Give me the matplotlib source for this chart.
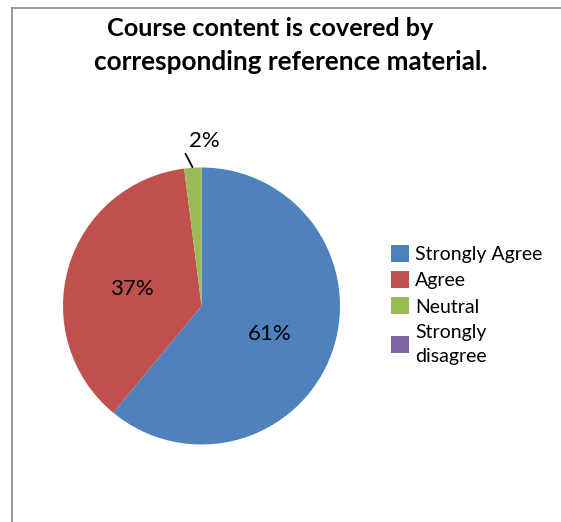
import matplotlib
matplotlib.use("Agg")
import matplotlib.pyplot as plt
from matplotlib.patches import Patch
from matplotlib.lines import Line2D
import numpy as np

plt.rcParams['font.family'] = ['Lato', 'DejaVu Sans']

categories = ["Strongly Agree", "Agree", "Neutral", "Strongly\ndisagree"]
values = [61, 37, 2, 0]
pct_labels = ["61%", "37%", "2%", ""]
colors = ["#4F81BD", "#C0504D", "#9BBB59", "#8064A2"]
title_lines = ["Course content is covered by ", "corresponding reference material."]

W, H = 561, 522
fig = plt.figure(figsize=(W / 100, H / 100), dpi=100)

# chart-area border (top and left visible)
fig.add_artist(Line2D([12 / W, 1.0], [1 - 8 / H, 1 - 8 / H], color="#888888", lw=1.2))
fig.add_artist(Line2D([12 / W, 12 / W], [0, 1 - 8 / H], color="#888888", lw=1.2))

# title
fig.text(273 / W, 1 - 28 / H, title_lines[0], ha="center", va="center",
         fontsize=18.2, fontweight="bold")
fig.text(291 / W, 1 - 62 / H, title_lines[1], ha="center", va="center",
         fontsize=18.8, fontweight="bold")

cx, cy, r = 201.5, 306, 138.5
ax = fig.add_axes([(cx - r) / W, 1 - (cy + r) / H, 2 * r / W, 2 * r / H])
wedges, _ = ax.pie(values, colors=colors, startangle=90, counterclock=False,
                   radius=1.0, wedgeprops=dict(linewidth=0))
ax.set_xlim(-1, 1)
ax.set_ylim(-1, 1)
ax.set_aspect("auto")
ax.axis("off")

for w, lab in zip(wedges, pct_labels):
    if not lab:
        continue
    mid_deg = (w.theta1 + w.theta2) / 2
    mid = np.deg2rad(mid_deg)
    frac = (w.theta2 - w.theta1) / 360
    if frac > 0.05:
        ax.text(0.52 * np.cos(mid), 0.52 * np.sin(mid) - 0.025, lab,
                ha="center", va="center", fontsize=16)
    else:
        a2 = np.deg2rad(mid_deg + 2.5)
        ax.plot([np.cos(mid), 1.11 * np.cos(a2)], [np.sin(mid), 1.11 * np.sin(a2)],
                color="black", lw=1.3, clip_on=False, solid_capstyle="butt")
        ax.text(0.02, 1.19, lab, ha="center", va="center", fontsize=16)

handles = [Patch(facecolor=c, edgecolor="none") for c in colors]
leg = fig.legend(handles, categories, loc="upper left",
                 bbox_to_anchor=(391 / W, 1 - 245 / H), frameon=False, fontsize=14,
                 handlelength=0.95, handleheight=0.95, handletextpad=0.3,
                 labelspacing=0.42, borderaxespad=0, borderpad=0)
for t in leg.get_texts():
    t.set_linespacing(1.5)

fig.savefig("out.png", dpi=100)
